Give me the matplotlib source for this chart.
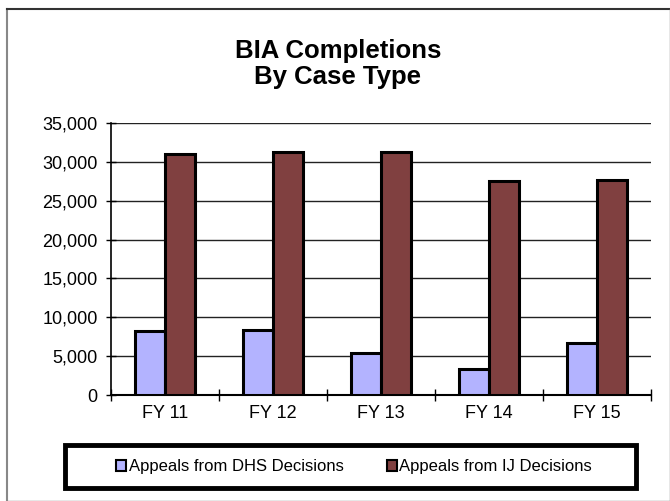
import matplotlib
matplotlib.use("Agg")
import matplotlib.pyplot as plt
import numpy as np
from matplotlib.patches import Rectangle, Patch
from matplotlib.lines import Line2D

plt.rcParams['font.family'] = ['Liberation Sans', 'DejaVu Sans']

categories = ["FY 11", "FY 12", "FY 13", "FY 14", "FY 15"]
dhs = [8200, 8300, 5400, 3300, 6650]
ij = [31000, 31300, 31300, 27600, 27700]
series_names = ["Appeals from DHS Decisions", "Appeals from IJ Decisions"]
yticks = [0, 5000, 10000, 15000, 20000, 25000, 30000, 35000]
colors = ["#b3b3ff", "#804040"]

W, H = 670, 501
fig = plt.figure(figsize=(W/100, H/100), dpi=100)

def fx(px):
    return px / W

def fy(py):
    return 1 - py / H

# plot area
ax = fig.add_axes([fx(111), fy(395), fx(651 - 111), (395 - 123) / H])

x = np.arange(len(categories))
bw = 0.28
ax.bar(x - bw/2, dhs, bw, color=colors[0], edgecolor="black", linewidth=2.2, zorder=3)
ax.bar(x + bw/2, ij, bw, color=colors[1], edgecolor="black", linewidth=2.2, zorder=3)

ax.set_xlim(-0.5, len(categories) - 0.5)
ax.set_ylim(0, 35000)
ax.set_yticks(yticks)
ax.set_yticklabels([f"{v:,}" for v in yticks], fontsize=13)
ax.yaxis.grid(True, color="#222222", linewidth=1, zorder=0)
ax.set_xticks(x)
ax.set_xticklabels(categories, fontsize=13)
ax.set_xticks(np.arange(len(categories) + 1) - 0.5, minor=True)
ax.tick_params(axis='x', which='major', length=0, pad=7)
ax.tick_params(axis='x', which='minor', length=8, direction='inout', color='black', width=1)
ax.tick_params(axis='y', length=7, direction='inout', pad=6, width=1)
for s in ['top', 'right']:
    ax.spines[s].set_visible(False)
ax.spines['left'].set_linewidth(1.2)
ax.spines['bottom'].set_linewidth(1.5)

# title
fig.text(0.5 + 3/W, fy(64), "BIA Completions\nBy Case Type", ha='center', va='center',
         fontsize=18.5, fontweight='bold', linespacing=1.12)

# outer chart frame
fig.add_artist(Line2D([fx(6.5), fx(6.5)], [fy(9), 0], color="#888888", lw=1.5))
fig.add_artist(Line2D([fx(6.5), 1], [fy(9), fy(9)], color="#333333", lw=1.5))
fig.add_artist(Line2D([fx(669.5), fx(669.5)], [fy(9), 0], color="#888888", lw=1))
fig.add_artist(Line2D([fx(6.5), 1], [fy(500.5), fy(500.5)], color="#888888", lw=1))

# legend box
fig.add_artist(Rectangle((fx(65), fy(488)), fx(636 - 65), (488 - 445) / H,
                         transform=fig.transFigure, fill=False, edgecolor='black',
                         linewidth=3.5))
handles = [Patch(facecolor=c, edgecolor='black', linewidth=1.5) for c in colors]
fig.legend(handles, series_names, loc='center', bbox_to_anchor=(fx(354), fy(467)),
           ncol=2, frameon=False, fontsize=12, handlelength=0.6, handleheight=0.6,
           handletextpad=0.15, columnspacing=2.6, borderpad=0)

fig.savefig("out.png", dpi=100)
